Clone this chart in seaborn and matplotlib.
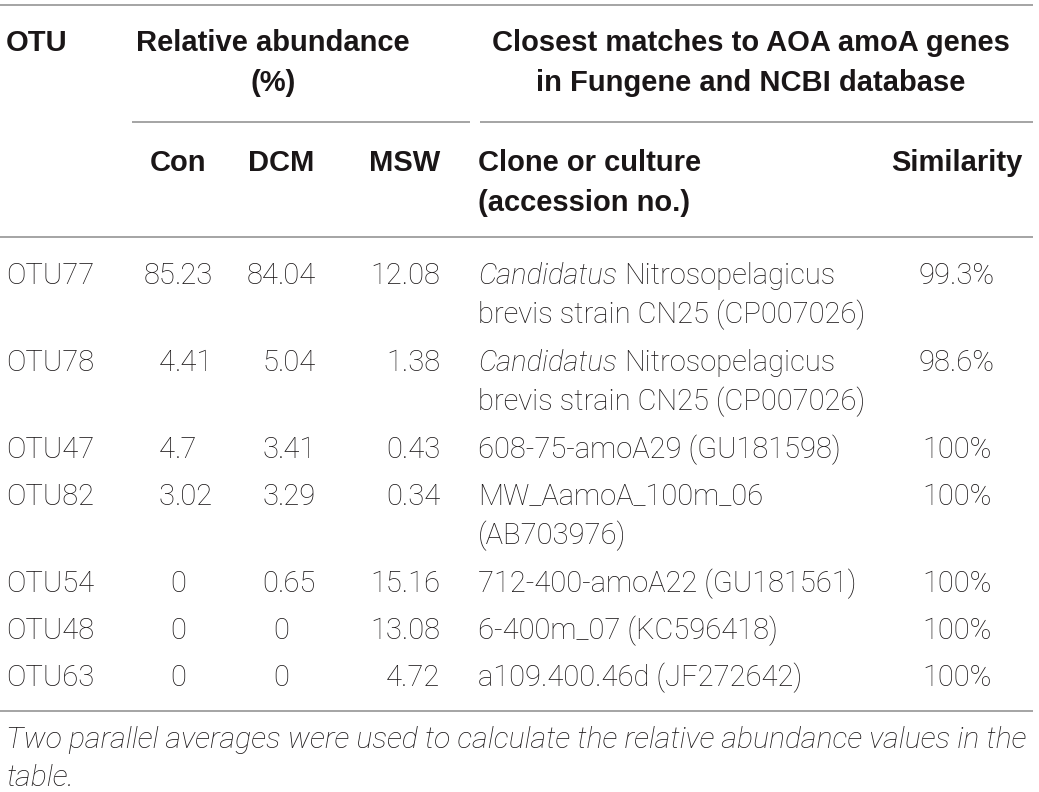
import matplotlib
matplotlib.use('Agg')
import matplotlib.pyplot as plt
import seaborn as sns

# table contents
otus = ['OTU77', 'OTU78', 'OTU47', 'OTU82', 'OTU54', 'OTU48', 'OTU63']
con = ['85.23', '4.41', '4.7', '3.02', '0', '0', '0']
dcm = ['84.04', '5.04', '3.41', '3.29', '0.65', '0', '0']
msw = ['12.08', '1.38', '0.43', '0.34', '15.16', '13.08', '4.72']
clone_italic = ['Candidatus', 'Candidatus', '', '', '', '', '']
clone_lines = [
    ['Nitrosopelagicus', 'brevis strain CN25 (CP007026)'],
    ['Nitrosopelagicus', 'brevis strain CN25 (CP007026)'],
    ['608-75-amoA29 (GU181598)'],
    ['MW_AamoA_100m_06', '(AB703976)'],
    ['712-400-amoA22 (GU181561)'],
    ['6-400m_07 (KC596418)'],
    ['a109.400.46d (JF272642)'],
]
similarity = ['99.3%', '98.6%', '100%', '100%', '100%', '100%', '100%']
footnote = ['Two parallel averages were used to calculate the relative abundance values in the',
            'table.']

sns.set_theme(style='white')
plt.rcParams['font.family'] = ['Roboto', 'DejaVu Sans']

TXT = '#1a1617'
LINE = '#8c8c8c'
body = dict(fontsize=21, color=TXT, fontweight='light', family=['Roboto', 'DejaVu Sans'])
head = dict(fontsize=21, color=TXT, fontweight='bold', family=['Liberation Sans', 'DejaVu Sans'])

fig = plt.figure(figsize=(10.39, 7.92), dpi=100)
ax = fig.add_axes([0, 0, 1, 1])
ax.set_xlim(0, 1039)
ax.set_ylim(792, 0)
ax.axis('off')
renderer = fig.canvas.get_renderer()

# rules
for y, x0, x1 in [(5, 0, 1033), (122, 132, 470), (122, 480, 1033), (237, 0, 1033), (711, 0, 1033)]:
    ax.plot([x0, x1], [y, y], color=LINE, lw=1.1, solid_capstyle='butt')

# header
ax.text(6, 51, 'OTU', ha='left', va='baseline', **head)
ax.text(273, 51, 'Relative abundance', ha='center', va='baseline', **head)
ax.text(273, 91, '(%)', ha='center', va='baseline', **head)
ax.text(751, 51, 'Closest matches to AOA amoA genes', ha='center', va='baseline', **head)
ax.text(751, 91, 'in Fungene and NCBI database', ha='center', va='baseline', **head)
ax.text(178, 171, 'Con', ha='center', va='baseline', **head)
ax.text(281, 171, 'DCM', ha='center', va='baseline', **head)
ax.text(440, 171, 'MSW', ha='right', va='baseline', **head)
ax.text(478, 171, 'Clone or culture', ha='left', va='baseline', **head)
ax.text(478, 211, '(accession no.)', ha='left', va='baseline', **head)
ax.text(957, 171, 'Similarity', ha='center', va='baseline', **head)


def decimal_text(x, y, s):
    # numbers line up on the decimal point, plain zeros are centred
    if '.' not in s:
        ax.text(x, y, s, ha='center', va='baseline', **body)
        return
    whole, frac = s.split('.')
    ax.text(x - 3, y, whole, ha='right', va='baseline', **body)
    ax.text(x - 3, y, '.' + frac, ha='left', va='baseline', **body)


y = 284
for i, otu in enumerate(otus):
    ax.text(6, y, otu, ha='left', va='baseline', **body)
    decimal_text(178, y, con[i])
    decimal_text(281, y, dcm[i])
    ax.text(440, y, msw[i], ha='right', va='baseline', **body)
    ax.text(957, y, similarity[i], ha='center', va='baseline', **body)
    x = 478
    if clone_italic[i]:
        t = ax.text(x, y, clone_italic[i], ha='left', va='baseline', style='italic', **body)
        x = t.get_window_extent(renderer).x1 + 7
    for k, line in enumerate(clone_lines[i]):
        ax.text(x if k == 0 else 478, y + 39 * k, line, ha='left', va='baseline', **body)
    y += 47 + 40 * (len(clone_lines[i]) - 1)

foot = dict(body, fontsize=21.8)
for k, line in enumerate(footnote):
    ax.text(6, 748 + 38 * k, line, ha='left', va='baseline', style='italic', **foot)

fig.savefig('out.png', dpi=100)
